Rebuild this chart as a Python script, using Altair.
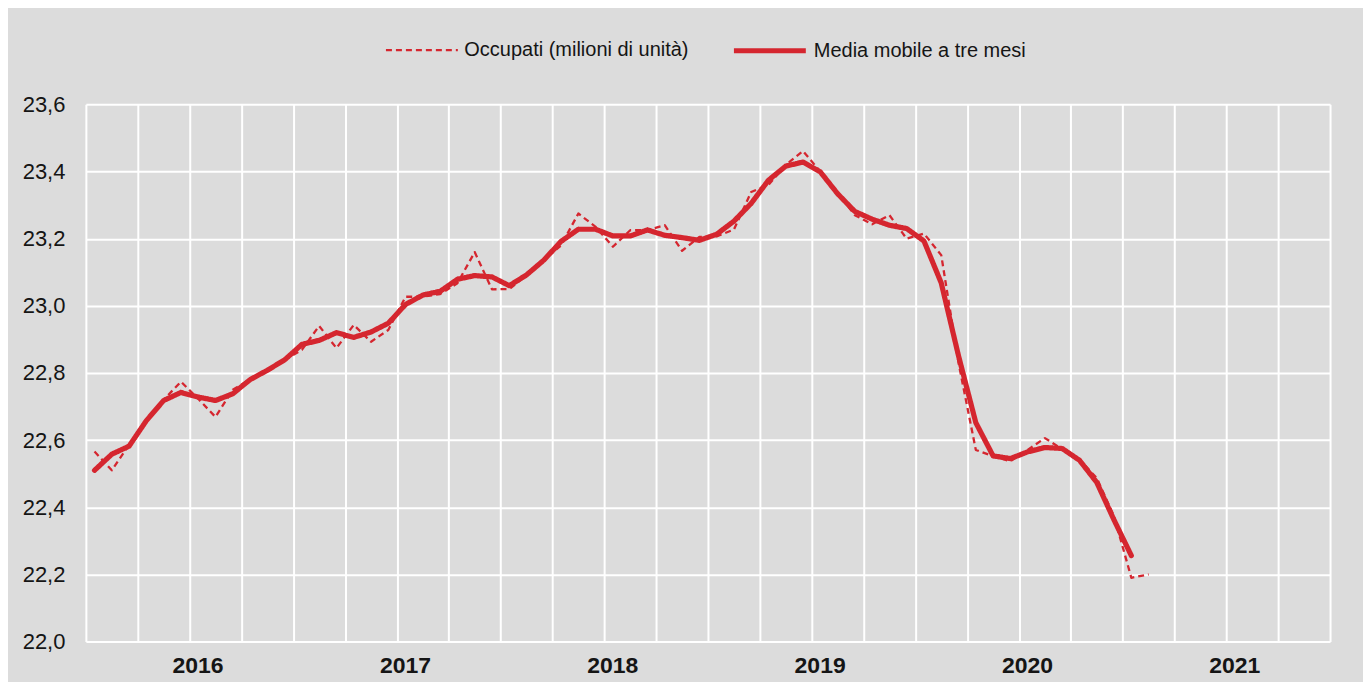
import altair as alt
import pandas as pd

years = ["2016", "2017", "2018", "2019", "2020", "2021"]
y_ticks = [22.0, 22.2, 22.4, 22.6, 22.8, 23.0, 23.2, 23.4, 23.6]
series_names = ["Occupati (milioni di unità)", "Media mobile a tre mesi"]

# monthly values (62 months)
occupati = [
    22.566, 22.510, 22.586, 22.660, 22.720, 22.774, 22.723, 22.669, 22.750, 22.780,
    22.804, 22.839, 22.869, 22.940, 22.874, 22.943, 22.893, 22.928, 23.027, 23.027,
    23.035, 23.067, 23.160, 23.049, 23.050, 23.090, 23.136, 23.180, 23.275, 23.235,
    23.176, 23.225, 23.225, 23.240, 23.164, 23.205, 23.207, 23.227, 23.339, 23.360,
    23.420, 23.461, 23.400, 23.336, 23.270, 23.243, 23.270, 23.200, 23.215, 23.151,
    22.830, 22.571, 22.552, 22.537, 22.571, 22.606, 22.573, 22.542, 22.487, 22.373,
    22.190, 22.200,
]
media_mobile = [
    22.510, 22.558, 22.582, 22.658, 22.718, 22.742, 22.728, 22.718, 22.738, 22.780,
    22.808, 22.839, 22.885, 22.897, 22.920, 22.906, 22.922, 22.948, 23.004, 23.032,
    23.043, 23.079, 23.090, 23.086, 23.060, 23.092, 23.136, 23.192, 23.228, 23.228,
    23.208, 23.208, 23.226, 23.210, 23.203, 23.195, 23.213, 23.252, 23.305, 23.374,
    23.416, 23.428, 23.399, 23.334, 23.281, 23.258, 23.240, 23.230, 23.193, 23.068,
    22.851, 22.652, 22.553, 22.545, 22.565, 22.578, 22.575, 22.540, 22.474, 22.362,
    22.256,
]

RED = "#d5262f"
BG = "#dcdcdc"
FONT = "Liberation Sans Narrow, Arial Narrow, Liberation Sans, sans-serif"
TXT = "#151515"

df_occ = pd.DataFrame({
    "t": [i + 0.5 for i in range(len(occupati))],
    "v": occupati,
    "serie": series_names[0],
})
df_mm = pd.DataFrame({
    "t": [i + 0.5 for i in range(len(media_mobile))],
    "v": media_mobile,
    "serie": series_names[1],
})

years_js = "[" + ",".join("'" + y + "'" for y in years) + "]"
x_label_expr = "datum.value % 12 == 6 ? " + years_js + "[floor(datum.value / 12)] : ''"

x_enc = alt.X(
    "t:Q",
    scale=alt.Scale(domain=[0, 72], nice=False, zero=False),
    axis=alt.Axis(
        values=list(range(0, 73, 3)),
        labelExpr=x_label_expr,
        grid=True, gridColor="white", gridWidth=2, gridOpacity=1,
        domain=False, ticks=False,
        labelFont=FONT, labelFontSize=23, labelFontWeight="bold", labelColor=TXT,
        labelPadding=13, labelOffset=8, labelOverlap=False, labelFlush=False,
        title=None,
    ),
)
y_enc = alt.Y(
    "v:Q",
    scale=alt.Scale(domain=[22.0, 23.6], nice=False, zero=False),
    axis=alt.Axis(
        values=y_ticks,
        labelExpr="replace(format(datum.value, '.1f'), '.', ',')",
        grid=True, gridColor="white", gridWidth=2, gridOpacity=1,
        domain=False, ticks=False,
        labelFont=FONT, labelFontSize=22, labelColor=TXT,
        labelPadding=21, title=None,
    ),
)

legend = alt.Legend(
    title=None, orient="none", legendX=299, legendY=-93,
    direction="horizontal", symbolType="stroke", symbolSize=5184,
    labelFont=FONT, labelFontSize=20, labelColor=TXT, labelLimit=400,
    columnPadding=34, labelOffset=5,
)

color_enc = alt.Color("serie:N", scale=alt.Scale(domain=series_names, range=[RED, RED]), legend=legend)
dash_enc = alt.StrokeDash("serie:N", scale=alt.Scale(domain=series_names, range=[[6, 4], [1, 0]]), legend=legend)
width_enc = alt.StrokeWidth("serie:O", scale=alt.Scale(domain=series_names, range=[2.3, 5.2]), legend=legend)

occ_line = alt.Chart(df_occ).mark_line(strokeJoin="round").encode(
    x=x_enc, y=y_enc, color=color_enc, strokeDash=dash_enc, strokeWidth=width_enc
)
mm_line = alt.Chart(df_mm).mark_line(strokeJoin="round", strokeCap="round").encode(
    x=x_enc, y=y_enc, color=color_enc, strokeDash=dash_enc, strokeWidth=width_enc
)

chart = alt.layer(occ_line, mm_line).properties(
    width=1246, height=538,
    background=BG,
    autosize=alt.AutoSizeParams(type="none"),
    padding={"left": 78, "top": 96, "right": 33, "bottom": 40},
).configure_view(stroke=None)

chart.save("out.html", embed_options={"renderer": "svg", "actions": False})
